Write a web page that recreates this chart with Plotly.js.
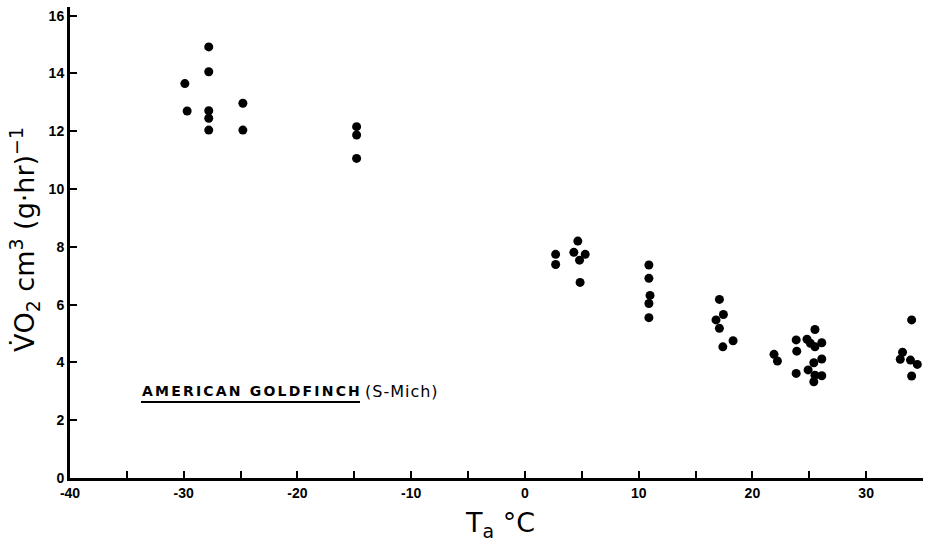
<!DOCTYPE html>
<html>
<head>
<meta charset="utf-8">
<script src="https://cdn.plot.ly/plotly-3.0.1.min.js"></script>
<style>html,body{margin:0;padding:0;background:#fff;}#chart{width:932px;height:555px;}</style>
</head>
<body>
<div id="chart"></div>
<script>
// Ambient temperature (°C) of each measurement
const tempC = [
  -29.9, -29.7,
  -27.8, -27.8, -27.8, -27.8, -27.8,
  -24.8, -24.8,
  -14.8, -14.8, -14.8,
  2.7, 2.7,
  4.65, 4.3, 5.3, 4.8, 4.85,
  10.9, 10.9, 11.0, 10.9, 10.9,
  17.1, 17.45, 16.8, 17.1, 18.3, 17.4,
  21.9, 22.2,
  23.85, 23.9, 23.85,
  25.5, 24.8, 25.1, 25.5, 26.1, 26.1, 25.4, 24.9, 25.5, 26.1, 25.4,
  34.0, 33.2, 33.0, 33.9, 34.5, 34.0
];
// Oxygen consumption, cm3 (g·hr)^-1
const vo2 = [
  13.65, 12.7,
  14.92, 14.06, 12.71, 12.45, 12.04,
  12.97, 12.04,
  12.16, 11.87, 11.06,
  7.74, 7.39,
  8.20, 7.81, 7.74, 7.54, 6.77,
  7.37, 6.91, 6.32, 6.04, 5.55,
  6.18, 5.66, 5.47, 5.18, 4.75, 4.54,
  4.28, 4.05,
  4.78, 4.39, 3.62,
  5.14, 4.80, 4.66, 4.54, 4.68, 4.12, 3.99, 3.74, 3.56, 3.54, 3.33,
  5.47, 4.35, 4.11, 4.08, 3.93, 3.53
];
const xTickVals = [-40, -30, -20, -10, 0, 10, 20, 30];
const xTickText = ['-40', '-30', '-20', '-10', '0', '10', '20', '30'];
const yTickVals = [0, 2, 4, 6, 8, 10, 12, 14, 16];
const yTickText = ['0', '2', '4', '6', '8', '10', '12', '14', '16'];
const xTitle = 'T<sub>a</sub> °C';
const yTitle = 'V\u0307O<sub>2</sub> cm<sup>3</sup> (g·hr)<sup>\u22121</sup>';
const speciesLabel = 'AMERICAN GOLDFINCH';
const siteLabel = '(S-Mich)';

const tickFont = {family: 'Liberation Sans, Arial, sans-serif', size: 14, color: '#000', weight: 700};
const titleFont = {family: 'DejaVu Sans, sans-serif', size: 27, color: '#000'};

const trace = {
  type: 'scatter', mode: 'markers', x: tempC, y: vo2,
  marker: {color: '#000', size: 9, line: {width: 0}},
  hoverinfo: 'x+y'
};

const layout = {
  width: 932, height: 555,
  margin: {l: 70, r: 9, t: 7, b: 77, pad: 0},
  paper_bgcolor: '#fff', plot_bgcolor: '#fff',
  showlegend: false,
  xaxis: {
    range: [-40, 35], showgrid: false, zeroline: false,
    showline: true, linecolor: '#000', linewidth: 3,
    tickmode: 'array', tickvals: xTickVals, ticktext: xTickText,
    ticks: 'inside', ticklen: 7, tickwidth: 2, tickcolor: '#000',
    minor: {dtick: 5, tick0: 0, ticks: 'inside', ticklen: 7, tickwidth: 2, tickcolor: '#000', showgrid: false},
    tickfont: tickFont, fixedrange: true
  },
  yaxis: {
    range: [0, 16.3], showgrid: false, zeroline: false,
    showline: true, linecolor: '#000', linewidth: 3,
    tickmode: 'array', tickvals: yTickVals, ticktext: yTickText,
    ticks: 'inside', ticklen: 7, tickwidth: 2, tickcolor: '#000',
    tickfont: tickFont, fixedrange: true
  },
  annotations: [
    {xref: 'paper', yref: 'paper', x: (500 - 70) / 853, y: (478 - 524) / 471,
     xanchor: 'center', yanchor: 'middle', showarrow: false, text: xTitle, font: titleFont},
    {xref: 'paper', yref: 'paper', x: (24 - 70) / 853, y: (478 - 240) / 471,
     xanchor: 'center', yanchor: 'middle', showarrow: false, textangle: -90, text: yTitle, font: titleFont},
    {xref: 'paper', yref: 'paper', x: (140 - 70) / 853, y: (478 - 391) / 471,
     xanchor: 'left', yanchor: 'middle', showarrow: false,
     text: '<span style="letter-spacing:2.2px">' + speciesLabel + '</span>',
     font: {family: 'DejaVu Sans, sans-serif', size: 14, color: '#000', weight: 700}},
    {xref: 'paper', yref: 'paper', x: (363 - 70) / 853, y: (478 - 391) / 471,
     xanchor: 'left', yanchor: 'middle', showarrow: false,
     text: '<span style="letter-spacing:1px">' + siteLabel + '</span>',
     font: {family: 'DejaVu Sans, sans-serif', size: 16, color: '#000'}}
  ],
  shapes: [
    {type: 'line', xref: 'paper', yref: 'paper',
     x0: (141 - 70) / 853, x1: (360 - 70) / 853, y0: (478 - 402) / 471, y1: (478 - 402) / 471,
     line: {color: '#000', width: 2}}
  ]
};

Plotly.newPlot('chart', [trace], layout, {staticPlot: true, displayModeBar: false});
</script>
</body>
</html>
